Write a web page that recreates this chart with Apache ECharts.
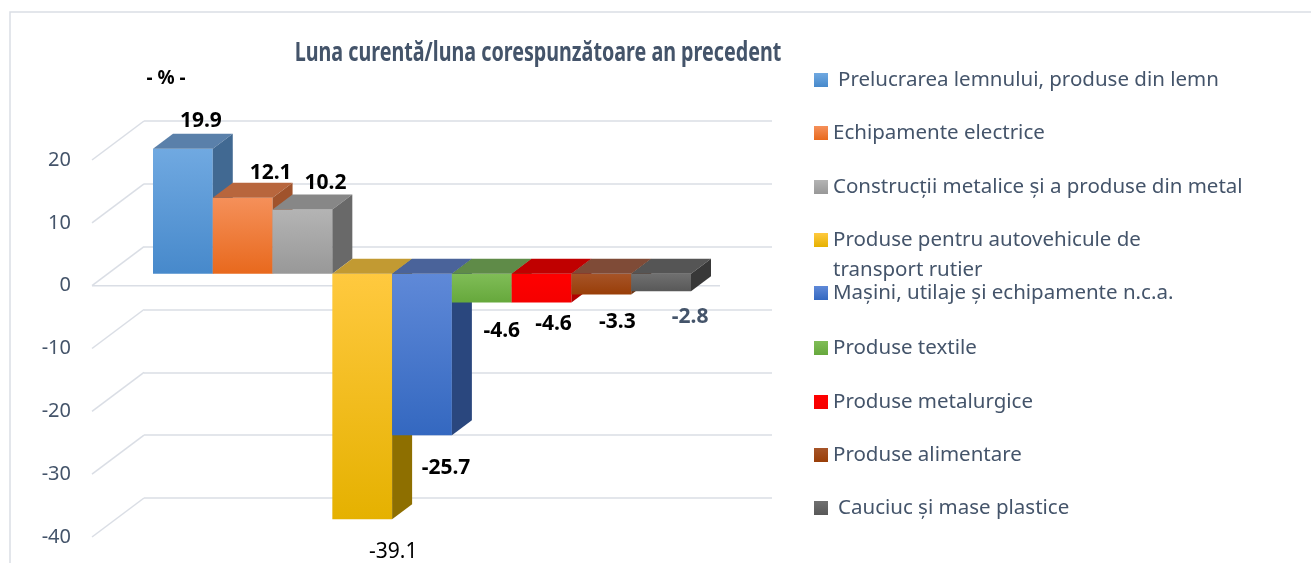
<!DOCTYPE html>
<html>
<head>
<meta charset="utf-8">
<script src="https://cdn.jsdelivr.net/npm/echarts@6/dist/echarts.min.js"></script>
<style>
  html, body { margin: 0; padding: 0; background: #fff; }
  #chart { width: 1311px; height: 563px; }
</style>
</head>
<body>
<div id="chart"></div>
<script>
// date
const categories = [
  'Prelucrarea lemnului, produse din lemn',
  'Echipamente electrice',
  'Construcții metalice și a produse din metal',
  'Produse pentru autovehicule de transport rutier',
  'Mașini, utilaje și echipamente n.c.a.',
  'Produse textile',
  'Produse metalurgice',
  'Produse alimentare',
  'Cauciuc și mase plastice'
]
const values = [19.9, 12.1, 10.2, -39.1, -25.7, -4.6, -4.6, -3.3, -2.8]
const yTicks = [20, 10, 0, -10, -20, -30, -40]
const titleText = 'Luna curentă/luna corespunzătoare an precedent'

// culori: fata (sus -> jos), capac, lateral
const shades = [
  { a: '#70a9e1', b: '#4789cb', top: '#5a80aa', side: '#416992' },
  { a: '#f5905a', b: '#e8691d', top: '#b8663d', side: '#a0532c' },
  { a: '#b4b4b4', b: '#989898', top: '#878787', side: '#696969' },
  { a: '#ffc93f', b: '#e5b100', top: '#c29a32', side: '#8e6f00' },
  { a: '#5f89d8', b: '#3468c0', top: '#4a639a', side: '#2a477e' },
  { a: '#80bd57', b: '#66a83c', top: '#5f8b48', side: '#4d7a30' },
  { a: '#ff0000', b: '#f50000', top: '#c00000', side: '#b00000' },
  { a: '#a65428', b: '#993e08', top: '#7f4b37', side: '#6c3210' },
  { a: '#707070', b: '#585858', top: '#555555', side: '#383838' }
]
// pozitia etichetelor fata de capatul barei
const labelShift = [[18, -28], [28, -25], [23, -27], [31, 33], [24, 33], [20, 28], [12, 21], [16, 28], [29, 26]]
const legendIconY = [80, 133, 187, 240, 293, 348, 402, 455, 508]

const DX = 20, DY = 15        // adancime bara
const WX = 52, WY = 39        // adancime pereti
const gridColor = '#dadee5'
const textColor = '#44546a'
const font = "'Noto Sans', sans-serif"

function grad(s) {
  return new echarts.graphic.LinearGradient(0, 0, 0, 1, [
    { offset: 0, color: s.a }, { offset: 1, color: s.b }
  ])
}

function renderWall(params, api) {
  const t = api.value(1)
  const p = api.coord([0, t])
  const children = [{
    type: 'line',
    shape: { x1: p[0], y1: p[1], x2: p[0] + WX, y2: p[1] - WY },
    style: { stroke: gridColor, lineWidth: 1.5 }
  }]
  if (t === 0) {
    const q = api.coord([1, 0])
    children.push({
      type: 'line',
      shape: { x1: p[0], y1: p[1], x2: q[0], y2: q[1] },
      style: { stroke: gridColor, lineWidth: 1.5 }
    })
  }
  return { type: 'group', children }
}

function renderBar(params, api) {
  const i = api.value(0)
  const v = api.value(1)
  const base = api.coord([i, 0])
  const end = api.coord([i, v])
  const w = api.size([1, 0])[0]
  const xl = base[0] - w / 2
  const xr = base[0] + w / 2
  const yTop = Math.min(base[1], end[1])
  const yBot = Math.max(base[1], end[1])
  const s = shades[i]
  const sh = labelShift[i]
  return {
    type: 'group',
    children: [
      { type: 'rect', shape: { x: xl, y: yTop, width: w, height: yBot - yTop }, style: { fill: grad(s) } },
      { type: 'polygon', shape: { points: [[xl, yTop], [xr, yTop], [xr + DX, yTop - DY], [xl + DX, yTop - DY]] }, style: { fill: s.top } },
      { type: 'polygon', shape: { points: [[xr, yTop], [xr + DX, yTop - DY], [xr + DX, yBot - DY], [xr, yBot]] }, style: { fill: s.side } },
      {
        type: 'text',
        x: base[0] + sh[0],
        y: end[1] + sh[1],
        style: {
          text: v.toFixed(1),
          align: 'center',
          verticalAlign: 'middle',
          fill: i === 8 ? textColor : '#000',
          font: (i === 3 ? 'normal ' : 'bold ') + '21px ' + font
        }
      }
    ]
  }
}

const chart = echarts.init(document.getElementById('chart'))

const series = [{
  type: 'custom',
  name: 'wall',
  xAxisIndex: 0,
  yAxisIndex: 0,
  z: 1,
  silent: true,
  renderItem: renderWall,
  data: yTicks.map(t => [0, t])
}]
categories.forEach((name, i) => {
  series.push({
    type: 'custom',
    name: name,
    xAxisIndex: 2,
    yAxisIndex: 2,
    z: 3,
    itemStyle: { color: grad(shades[i]) },
    renderItem: renderBar,
    encode: { x: 0, y: 1 },
    data: [[i, values[i]]]
  })
})

chart.setOption({
  backgroundColor: '#fff',
  animation: false,
  title: [
    {
      text: '- % -',
      left: 166,
      top: 69,
      padding: 0,
      textAlign: 'center',
      textStyle: { fontFamily: font, fontWeight: 'bold', fontSize: 19, color: '#000' }
    }
  ],
  graphic: [
    {
      type: 'rect',
      shape: { x: 10, y: 12, width: 1400, height: 700 },
      style: { fill: null, stroke: gridColor, lineWidth: 1.5 },
      silent: true
    },
    {
      // titlul principal, comprimat pe orizontala ca in original
      type: 'text',
      x: 538,
      y: 40,
      scaleX: 0.73,
      style: {
        text: titleText,
        align: 'center',
        verticalAlign: 'top',
        fill: textColor,
        font: 'bold 27px ' + font
      }
    }
  ],
  legend: categories.map((name, i) => ({
    data: [name],
    orient: 'vertical',
    left: 814,
    top: legendIconY[i] - (i === 3 ? 45 : 15),
    padding: 0,
    icon: 'rect',
    itemWidth: 14,
    itemHeight: 14,
    textStyle: { fontFamily: font, fontSize: 20.5, color: textColor, lineHeight: 30, padding: (i === 0 || i === 8) ? [0, 0, 0, 5] : 0 },
    formatter: n => i === 3 ? '\nProduse pentru autovehicule de\ntransport rutier' : n
  })),
  grid: [
    { left: 92, top: 160, width: 628, height: 377 },
    { left: 144, top: 121, width: 628, height: 377 },
    { left: 153, top: 148, width: 538, height: 377 }
  ],
  xAxis: [
    { gridIndex: 0, type: 'value', min: 0, max: 1, show: false },
    { gridIndex: 1, type: 'value', min: 0, max: 1, show: false },
    { gridIndex: 2, type: 'category', data: categories, show: false }
  ],
  yAxis: [
    {
      gridIndex: 0, type: 'value', min: -40, max: 20, interval: 10,
      axisLine: { show: false }, axisTick: { show: false }, splitLine: { show: false },
      axisLabel: { margin: 21, fontFamily: font, fontSize: 20, color: textColor }
    },
    {
      gridIndex: 1, type: 'value', min: -40, max: 20, interval: 10,
      axisLine: { show: false }, axisTick: { show: false }, axisLabel: { show: false },
      splitLine: { lineStyle: { color: gridColor, width: 1.5 } }
    },
    { gridIndex: 2, type: 'value', min: -40, max: 20, interval: 10, show: false }
  ],
  series: series
})

window.addEventListener('resize', () => { chart.resize() })
</script>
</body>
</html>
